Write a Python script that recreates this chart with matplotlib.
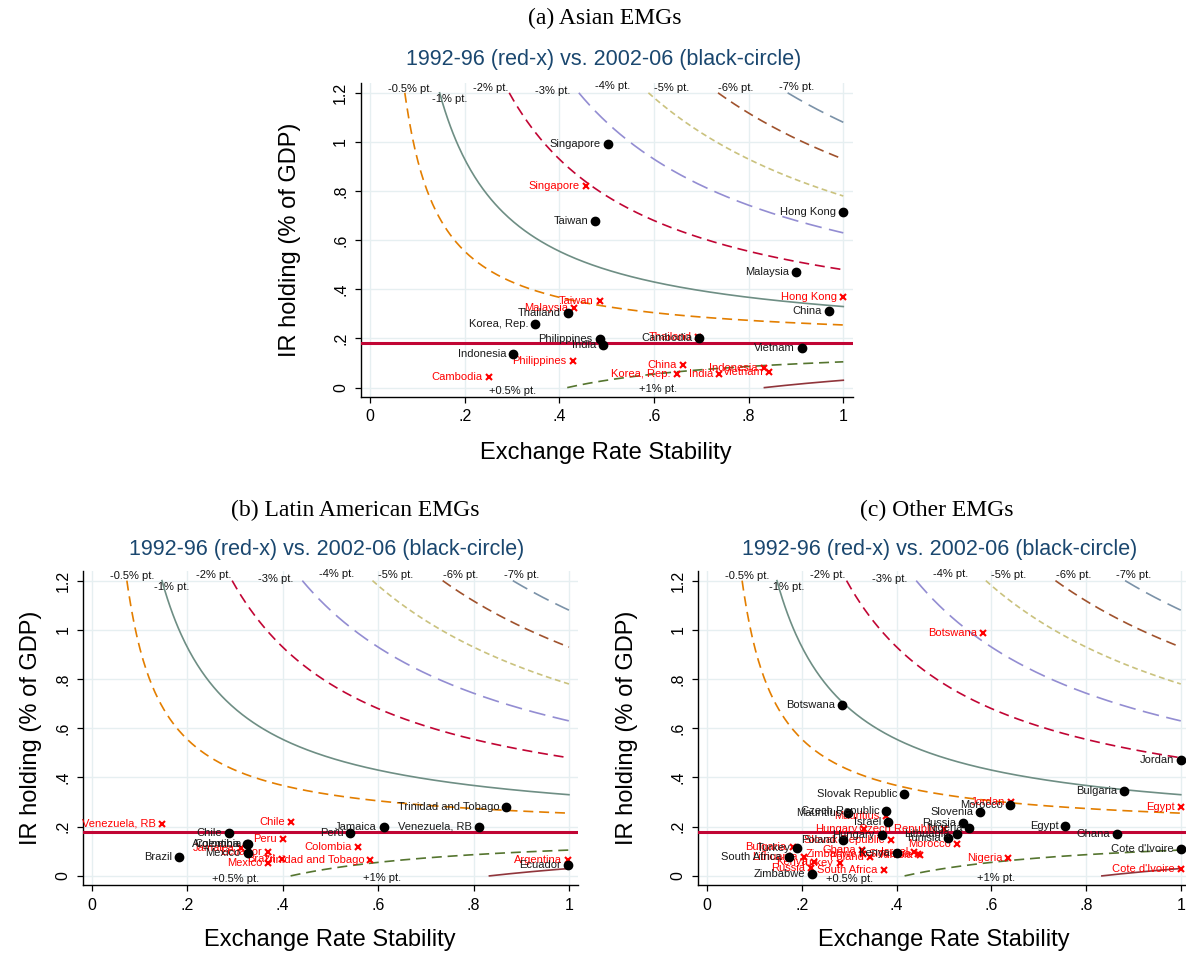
import numpy as np
import matplotlib
matplotlib.use('Agg')
import matplotlib.pyplot as plt

plt.rcParams['font.family'] = ['Liberation Sans', 'DejaVu Sans']

W, H = 1186, 956

# ---- data: (a) Asian EMGs ----
asia_names_02 = ["Singapore", "Taiwan", "Hong Kong", "Malaysia", "China", "Thailand",
                 "Korea, Rep.", "Philippines", "India", "Cambodia", "Indonesia", "Vietnam"]
asia_x_02 = [0.502, 0.476, 1.0, 0.901, 0.969, 0.418, 0.349, 0.485, 0.493, 0.696, 0.303, 0.913]
asia_y_02 = [0.992, 0.678, 0.714, 0.470, 0.310, 0.305, 0.259, 0.199, 0.172, 0.203, 0.137, 0.163]

asia_names_92 = ["Singapore", "Taiwan", "Malaysia", "Hong Kong", "Thailand", "Philippines",
                 "Cambodia", "China", "Korea, Rep.", "India", "Indonesia", "Vietnam"]
asia_x_92 = [0.456, 0.486, 0.432, 1.0, 0.692, 0.428, 0.251, 0.661, 0.648, 0.738, 0.832, 0.844]
asia_y_92 = [0.822, 0.351, 0.324, 0.367, 0.208, 0.110, 0.045, 0.091, 0.056, 0.056, 0.081, 0.064]

# ---- data: (b) Latin American EMGs ----
latam_names_02 = ["Trinidad and Tobago", "Jamaica", "Venezuela, RB", "Peru", "Chile",
                  "Colombia", "Argentina", "Mexico", "Brazil", "Ecuador"]
latam_x_02 = [0.869, 0.612, 0.812, 0.542, 0.287, 0.328, 0.326, 0.327, 0.183, 0.998]
latam_y_02 = [0.279, 0.200, 0.200, 0.176, 0.176, 0.130, 0.128, 0.092, 0.077, 0.046]

latam_names_92 = ["Venezuela, RB", "Chile", "Peru", "Colombia", "Jamaica", "Ecuador",
                  "Brazil", "Mexico", "Trinidad and Tobago", "Argentina"]
latam_x_92 = [0.147, 0.417, 0.400, 0.558, 0.313, 0.370, 0.398, 0.370, 0.584, 0.998]
latam_y_92 = [0.211, 0.220, 0.148, 0.119, 0.112, 0.096, 0.068, 0.052, 0.065, 0.065]

# ---- data: (c) Other EMGs ----
other_names_02 = ["Botswana", "Jordan", "Bulgaria", "Slovak Republic", "Morocco", "Slovenia",
                  "Czech Republic", "Mauritius", "Israel", "Russia", "Nigeria", "Egypt",
                  "Ghana", "Hungary", "Lithuania", "Tunisia", "Poland", "Turkey", "Kenya",
                  "South Africa", "Zimbabwe", "Cote d'Ivoire"]
other_x_02 = [0.285, 1.0, 0.880, 0.416, 0.639, 0.576, 0.378, 0.298, 0.382, 0.540, 0.553, 0.756,
              0.865, 0.368, 0.527, 0.508, 0.287, 0.190, 0.400, 0.172, 0.222, 1.0]
other_y_02 = [0.695, 0.471, 0.344, 0.333, 0.287, 0.260, 0.265, 0.255, 0.218, 0.217, 0.196, 0.203,
              0.171, 0.166, 0.171, 0.152, 0.146, 0.112, 0.095, 0.076, 0.006, 0.111]

other_names_92 = ["Botswana", "Jordan", "Egypt", "Mauritius", "Hungary", "Czech Republic",
                  "Slovak Republic", "Morocco", "Nigeria", "Bulgaria", "Ghana", "Lithuania",
                  "Zimbabwe", "Poland", "Israel", "Slovenia", "Tunisia", "Kenya", "Turkey",
                  "Russia", "South Africa", "Cote d'Ivoire"]
other_x_92 = [0.583, 0.642, 1.0, 0.377, 0.331, 0.500, 0.388, 0.527, 0.636, 0.180, 0.327, 0.204,
              0.329, 0.344, 0.437, 0.445, 0.449, 0.225, 0.280, 0.220, 0.373, 1.0]
other_y_92 = [0.989, 0.301, 0.280, 0.243, 0.190, 0.192, 0.146, 0.130, 0.074, 0.119, 0.106, 0.076,
              0.091, 0.076, 0.096, 0.089, 0.083, 0.056, 0.052, 0.031, 0.022, 0.027]

# ---- iso-welfare curves: y = base +/- k*scale/x ----
base_ir = 0.18
per_pt = 0.15
curve_pts = [-0.5, -1, -2, -3, -4, -5, -6, 0.5, 1]
curve_colors = ['#E37E00', '#6E8E84', '#C10534', '#938DD2', '#CAC27E', '#A0522D', '#7B92A8',
                '#55752F', '#90353B']
curve_styles = [(0, (6, 3.5)), '-', (0, (6, 3.5)), (0, (10, 4.5)), (0, (3.5, 2.2)),
                (0, (6, 3.5)), (0, (10, 4.5)), (0, (6, 3.5)), '-']

curve_labels = ["-0.5% pt.", "-1% pt.", "-2% pt.", "-3% pt.", "-4% pt.", "-5% pt.",
                "-6% pt.", "-7% pt.", "+0.5% pt.", "+1% pt."]
curve_lab_x = [0.085, 0.168, 0.255, 0.386, 0.513, 0.637, 0.773, 0.901, 0.301, 0.609]
curve_lab_y = [1.217, 1.173, 1.221, 1.207, 1.226, 1.221, 1.221, 1.224, -0.014, -0.007]

ticks_x = [0, 0.2, 0.4, 0.6, 0.8, 1]
ticks_x_lab = ["0", ".2", ".4", ".6", ".8", "1"]
ticks_y = [0, 0.2, 0.4, 0.6, 0.8, 1, 1.2]
ticks_y_lab = ["0", ".2", ".4", ".6", ".8", "1", "1.2"]

fig = plt.figure(figsize=(W / 100, H / 100), dpi=100)
fig.patch.set_facecolor('white')


def px_axes(l, t, r, b):
    return fig.add_axes([l / W, 1 - b / H, (r - l) / W, (b - t) / H])


def panel(ax, xlim, n02, x02, y02, n92, x92, y92):
    ax.set_xlim(*xlim)
    ax.set_ylim(-0.037, 1.24)
    ax.set_facecolor('white')
    for s in ['top', 'right']:
        ax.spines[s].set_visible(False)
    for s in ['left', 'bottom']:
        ax.spines[s].set_linewidth(1.0)
    ax.set_xticks(ticks_x)
    ax.set_xticklabels(ticks_x_lab)
    ax.set_yticks(ticks_y)
    ax.set_yticklabels(ticks_y_lab, rotation=90, va='center')
    ax.tick_params(labelsize=11.5, length=4, width=0.9, pad=5, direction='out')
    ax.grid(True, color='#E6EFF1', lw=1.0)
    ax.set_axisbelow(True)

    for k, c, ls in zip(curve_pts, curve_colors, curve_styles):
        d = -k * per_pt
        if d > 0:
            x0 = d / (1.2 - base_ir)
        else:
            x0 = -d / base_ir
        xs = np.linspace(x0, 1.0, 300)
        ax.plot(xs, base_ir + d / xs, color=c, lw=1.2, ls=ls, zorder=2)

    ax.axhline(base_ir, color='#C10534', lw=2.2, zorder=3)

    for t, tx, ty in zip(curve_labels, curve_lab_x, curve_lab_y):
        ax.text(tx, ty, t, fontsize=8, ha='center', va='center', color='#111111', zorder=4)

    ax.plot(x92, y92, ls='none', marker='x', ms=5, mew=1.5, color='#FF0000', zorder=5)
    for n, x, y in zip(n92, x92, y92):
        ax.annotate(n, (x, y), xytext=(-4.5, 0), textcoords='offset points', ha='right',
                    va='center', fontsize=8, color='#FF0000', annotation_clip=False, zorder=5)
    ax.plot(x02, y02, ls='none', marker='o', ms=6, color='black', zorder=6)
    for n, x, y in zip(n02, x02, y02):
        ax.annotate(n, (x, y), xytext=(-5, 0), textcoords='offset points', ha='right',
                    va='center', fontsize=8, color='#1a1a1a', annotation_clip=False, zorder=6)


def ftext(x, y, s, **kw):
    fig.text(x / W, 1 - y / H, s, ha='center', va='center', **kw)


sub = "1992-96 (red-x) vs. 2002-06 (black-circle)"

# panel a
ax_a = px_axes(360.7, 83, 853, 396.7)
panel(ax_a, (-0.0197, 1.0205), asia_names_02, asia_x_02, asia_y_02,
      asia_names_92, asia_x_92, asia_y_92)
ftext(605, 18, "(a) Asian EMGs", fontsize=17, family='Liberation Serif')
ftext(604, 60, sub, fontsize=15.5, color='#1A476F')
ftext(290, 240, "IR holding (% of GDP)", fontsize=17, rotation=90)
ftext(606, 453, "Exchange Rate Stability", fontsize=17)

# panel b
ax_b = px_axes(83.3, 570.8, 578.5, 885)
panel(ax_b, (-0.0178, 1.020), latam_names_02, latam_x_02, latam_y_02,
      latam_names_92, latam_x_92, latam_y_92)
ftext(355, 510, "(b) Latin American EMGs", fontsize=17, family='Liberation Serif')
ftext(327, 549, sub, fontsize=15.5, color='#1A476F')
ftext(31, 728, "IR holding (% of GDP)", fontsize=17, rotation=90)
ftext(330, 940, "Exchange Rate Stability", fontsize=17)

# panel c
ax_c = px_axes(698.3, 570.8, 1186, 885)
panel(ax_c, (-0.019, 1.011), other_names_02, other_x_02, other_y_02,
      other_names_92, other_x_92, other_y_92)
ftext(937, 510, "(c) Other EMGs", fontsize=17, family='Liberation Serif')
ftext(940, 549, sub, fontsize=15.5, color='#1A476F')
ftext(627, 728, "IR holding (% of GDP)", fontsize=17, rotation=90)
ftext(944, 940, "Exchange Rate Stability", fontsize=17)

fig.savefig('out.png', dpi=100)
